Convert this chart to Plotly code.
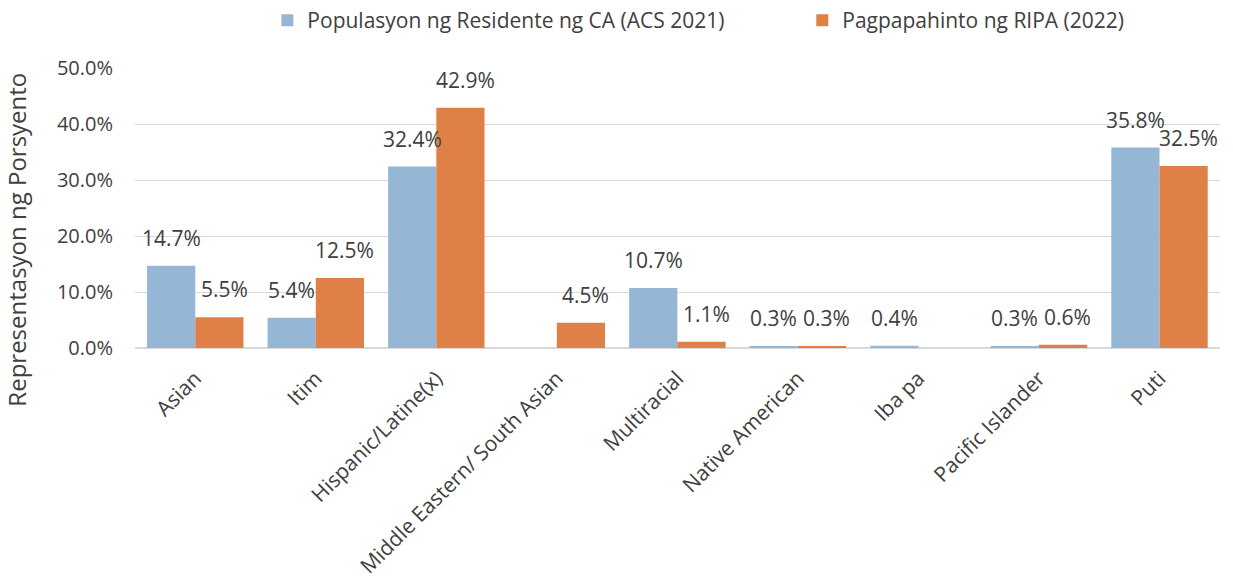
import plotly.graph_objects as go

categories = ["Asian", "Itim", "Hispanic/Latine(x)", "Middle Eastern/ South Asian",
              "Multiracial", "Native American", "Iba pa", "Pacific Islander", "Puti"]
ca_pop = [14.7, 5.4, 32.4, None, 10.7, 0.3, 0.4, 0.3, 35.8]
ripa = [5.5, 12.5, 42.9, 4.5, 1.1, 0.3, None, 0.6, 32.5]
y_ticks = [0, 10, 20, 30, 40, 50]
series_names = ["Populasyon ng Residente ng CA (ACS 2021)", "Pagpapahinto ng RIPA (2022)"]
y_title = "Representasyon ng Porsyento"
colors = ["#95B6D4", "#DF8046"]

FONT = "Open Sans"
TXT = "#404040"

fig = go.Figure()
for name, vals, col, lg in zip(series_names, [ca_pop, ripa], colors, ["legend", "legend2"]):
    fig.add_trace(go.Bar(x=categories, y=vals, name=name, marker_color=col,
                         marker_line_width=0, legend=lg, showlegend=True))

# data labels, placed with the axis scales (offset to each bar of the group)
for vals, xs in zip([ca_pop, ripa], [-24, 29]):
    for c, v in zip(categories, vals):
        if v is None:
            continue
        fig.add_annotation(x=c, y=v, xref="x", yref="y", text=f"{v:.1f}%",
                           showarrow=False, xshift=xs, yshift=12, yanchor="bottom",
                           font=dict(size=21, color=TXT, family=FONT))

# y-axis title
fig.add_annotation(x=-0.109, y=0.386, xref="paper", yref="paper", text=y_title,
                   textangle=-90, showarrow=False, xanchor="center", yanchor="middle",
                   font=dict(size=24, color=TXT, family=FONT))

leg_common = dict(orientation="h", xanchor="left", y=1.0, yanchor="top", yref="container",
                  font=dict(size=21, color=TXT), itemwidth=30, bgcolor="rgba(0,0,0,0)",
                  visible=True)
fig.update_layout(
    width=1233, height=579,
    margin=dict(l=135, r=13, t=68, b=231),
    barmode="group", bargap=0.2, bargroupgap=0,
    plot_bgcolor="white", paper_bgcolor="white",
    font=dict(family=FONT, color=TXT, size=21),
    showlegend=True,
    legend=dict(x=0.122, **leg_common),
    legend2=dict(x=0.615, **leg_common),
)
fig.update_yaxes(range=[0, 50], tickvals=y_ticks, ticktext=[f"{v:.1f}%" for v in y_ticks],
                 showgrid=True, gridcolor="#D9D9D9", gridwidth=1, zeroline=True,
                 zerolinecolor="#D9D9D9", zerolinewidth=1.5, automargin=False,
                 tickfont=dict(size=20, color=TXT), ticks="", ticklabelstandoff=21)
fig.update_xaxes(tickangle=-45, tickfont=dict(size=21, color=TXT), showline=False, ticks="",
                 automargin=False, ticklabelstandoff=13)

fig.write_html("out.html", config={"displayModeBar": False},
               post_script="document.body.style.margin='0';")
